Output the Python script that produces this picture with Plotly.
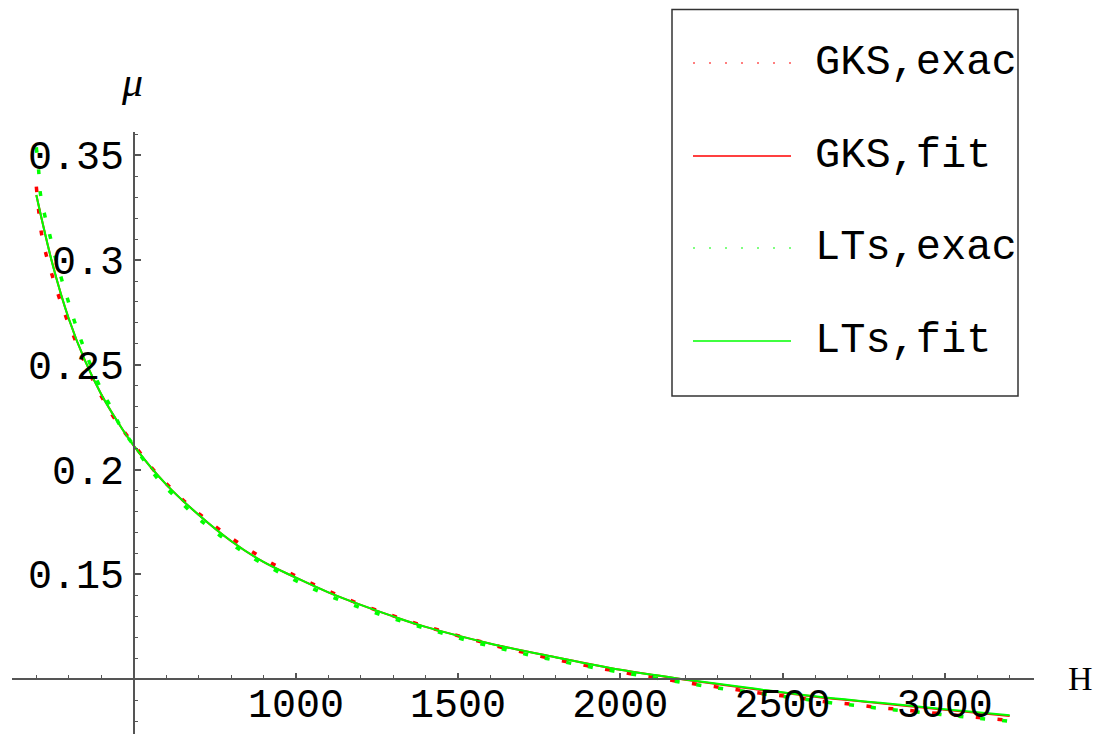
import plotly.graph_objects as go

# ---- data -------------------------------------------------------------
# GKS exact solution, mu(H)
gks_exact_H = [200, 207, 215, 229, 249, 270, 293, 319, 345, 375, 408, 444, 486,
               529, 574, 624, 675, 731, 788, 847, 908, 971, 1036, 1102, 1167,
               1235, 1303, 1370, 1439, 1511, 1581, 1651, 1721, 1791, 1861, 1932,
               2002, 2074, 2146, 2218, 2290, 2360, 2434, 2505, 2577, 2646, 2720,
               2792, 2864, 2937, 3009, 3078, 3150, 3200]
gks_exact_mu = [0.3350, 0.3240, 0.3135, 0.3033, 0.2926, 0.2823, 0.2722, 0.2622,
                0.2525, 0.2425, 0.2329, 0.2237, 0.2150, 0.2062, 0.1976, 0.1898,
                0.1823, 0.1754, 0.1688, 0.1626, 0.1569, 0.1515, 0.1466, 0.1420,
                0.1377, 0.1337, 0.1301, 0.1267, 0.1235, 0.1203, 0.1175, 0.1146,
                0.1122, 0.1097, 0.1076, 0.1054, 0.1035, 0.1015, 0.0998, 0.0980,
                0.0965, 0.0950, 0.0933, 0.0920, 0.0905, 0.0890, 0.0880, 0.0866,
                0.0856, 0.0843, 0.0833, 0.0822, 0.0811, 0.0804]

# LTs exact solution, mu(H)
lts_exact_H = [200, 207, 212, 225, 242, 259, 278, 298, 319, 342, 367, 396, 429,
               460, 499, 540, 583, 633, 683, 738, 794, 853, 917, 981, 1045, 1111,
               1179, 1247, 1317, 1388, 1454, 1524, 1595, 1665, 1735, 1806, 1876,
               1946, 2019, 2091, 2163, 2235, 2305, 2376, 2449, 2521, 2593, 2664,
               2736, 2807, 2879, 2951, 3024, 3096, 3200]
lts_exact_mu = [0.3538, 0.3430, 0.3323, 0.3220, 0.3116, 0.3011, 0.2908, 0.2806,
                0.2701, 0.2600, 0.2500, 0.2396, 0.2300, 0.2205, 0.2118, 0.2027,
                0.1941, 0.1864, 0.1789, 0.1719, 0.1654, 0.1592, 0.1536, 0.1485,
                0.1437, 0.1393, 0.1353, 0.1316, 0.1281, 0.1248, 0.1219, 0.1187,
                0.1160, 0.1135, 0.1111, 0.1089, 0.1068, 0.1048, 0.1029, 0.1010,
                0.0992, 0.0974, 0.0957, 0.0944, 0.0928, 0.0914, 0.0900, 0.0885,
                0.0873, 0.0860, 0.0849, 0.0838, 0.0826, 0.0815, 0.0800]

# fitted curves
fit_H = [200, 250, 300, 350, 400, 450, 500, 600, 700, 800, 900, 1000, 1100,
         1200, 1300, 1400, 1600, 1800, 2000, 2200, 2400, 2600, 2800, 3000, 3200]
gks_fit_mu = [0.3310, 0.2980, 0.2720, 0.2520, 0.2360, 0.2230, 0.2115, 0.1930,
              0.1785, 0.1660, 0.1560, 0.1485, 0.1415, 0.1355, 0.1300, 0.1250,
              0.1170, 0.1105, 0.1045, 0.0998, 0.0956, 0.0917, 0.0886, 0.0855,
              0.0825]
lts_fit_mu = [0.3310, 0.2980, 0.2720, 0.2520, 0.2360, 0.2230, 0.2115, 0.1930,
              0.1785, 0.1660, 0.1560, 0.1485, 0.1415, 0.1355, 0.1300, 0.1250,
              0.1170, 0.1105, 0.1045, 0.0999, 0.0958, 0.0919, 0.0888, 0.0857,
              0.0828]

x_ticks = [1000, 1500, 2000, 2500, 3000]
y_ticks = [0.15, 0.2, 0.25, 0.3, 0.35]
y_tick_text = ["0.15", "0.2", "0.25", "0.3", "0.35"]

legend_labels = ["GKS,exac", "GKS,fit", "LTs,exac", "LTs,fit"]

# ---- figure -------------------------------------------------------------
W, H = 1093, 734
ML, MR, MT, MB = 12, 59, 132, 0
RED, GREEN = "#ff0000", "#00ff00"
AXIS = "#555555"
MONO = "Liberation Mono, Courier New, monospace"
SERIF = "Liberation Serif, Times New Roman, serif"


def px_x(px):
    return (px - ML) / (W - ML - MR)


def px_y(py):
    return (H - MB - py) / (H - MT - MB)


fig = go.Figure()
fig.add_trace(go.Scatter(x=fit_H, y=gks_fit_mu, mode="lines", name=legend_labels[1],
                         line=dict(color=RED, width=2, shape="spline")))
fig.add_trace(go.Scatter(x=gks_exact_H, y=gks_exact_mu, mode="lines", name=legend_labels[0],
                         line=dict(color=RED, width=3.5, dash="5px,17px", shape="spline")))
fig.add_trace(go.Scatter(x=lts_exact_H, y=lts_exact_mu, mode="lines", name=legend_labels[2],
                         line=dict(color=GREEN, width=3.5, dash="5px,17px", shape="spline")))
fig.add_trace(go.Scatter(x=fit_H, y=lts_fit_mu, mode="lines", name=legend_labels[3],
                         line=dict(color=GREEN, width=2, shape="spline")))

x_range = [125, 3275]
y_range = [0.0739, 0.3611]
x_cross, y_cross = 500, 0.1

fig.update_layout(
    template="none",
    width=W, height=H,
    margin=dict(l=ML, r=MR, t=MT, b=MB, pad=0),
    paper_bgcolor="white", plot_bgcolor="white",
    showlegend=False,
    xaxis=dict(
        range=x_range, anchor="free",
        position=(y_cross - y_range[0]) / (y_range[1] - y_range[0]),
        showgrid=False, zeroline=False, automargin=False,
        showline=True, linecolor=AXIS, linewidth=1.5,
        tickmode="array", tickvals=x_ticks, ticktext=[str(v) for v in x_ticks],
        ticks="inside", ticklen=6, tickwidth=1.5, tickcolor=AXIS,
        ticklabelstandoff=-11,
        tickfont=dict(family=MONO, size=40, color="black"),
        minor=dict(tickmode="linear", tick0=0, dtick=100, ticks="inside",
                   ticklen=4, tickwidth=1.2, tickcolor=AXIS, showgrid=False),
    ),
    yaxis=dict(
        range=y_range, anchor="free",
        position=(x_cross - x_range[0]) / (x_range[1] - x_range[0]),
        showgrid=False, zeroline=False, automargin=False,
        showline=True, linecolor=AXIS, linewidth=1.5,
        tickmode="array", tickvals=y_ticks, ticktext=y_tick_text,
        ticks="inside", ticklen=7, tickwidth=1.5, tickcolor=AXIS,
        ticklabelstandoff=1,
        tickfont=dict(family=MONO, size=40, color="black"),
        minor=dict(tickmode="linear", tick0=0, dtick=0.01, ticks="inside",
                   ticklen=4, tickwidth=1.2, tickcolor=AXIS, showgrid=False),
    ),
)

# axis titles
fig.add_annotation(text="<i>μ</i>", xref="paper", yref="paper",
                   x=px_x(132), y=px_y(82), xanchor="center", yanchor="middle",
                   showarrow=False, font=dict(family=SERIF, size=42, color="black"))
fig.add_annotation(text="H", xref="paper", yref="paper",
                   x=px_x(1080), y=px_y(678), xanchor="center", yanchor="middle",
                   showarrow=False, font=dict(family=SERIF, size=34, color="black"))

# legend box
fig.add_shape(type="rect", xref="paper", yref="paper",
              x0=px_x(672), x1=px_x(1018), y0=px_y(396), y1=px_y(9.5),
              line=dict(color="#333333", width=1.5), fillcolor="white", layer="above")

legend_rows = [
    (legend_labels[0], RED, "2px,14px", 1.2),
    (legend_labels[1], RED, "solid", 1.5),
    (legend_labels[2], GREEN, "2px,14px", 1.2),
    (legend_labels[3], GREEN, "solid", 1.5),
]
row_y = [63, 156, 248, 341]
for (label, color, dash, lw), ry in zip(legend_rows, row_y):
    fig.add_shape(type="line", xref="paper", yref="paper",
                  x0=px_x(693), x1=px_x(791), y0=px_y(ry), y1=px_y(ry),
                  line=dict(color=color, width=lw, dash=dash), layer="above")
    fig.add_annotation(text=label, xref="paper", yref="paper",
                       x=px_x(813), y=px_y(ry), xanchor="left", yanchor="middle",
                       showarrow=False,
                       font=dict(family=MONO, size=42, color="black"))

fig.write_html("out.html")
